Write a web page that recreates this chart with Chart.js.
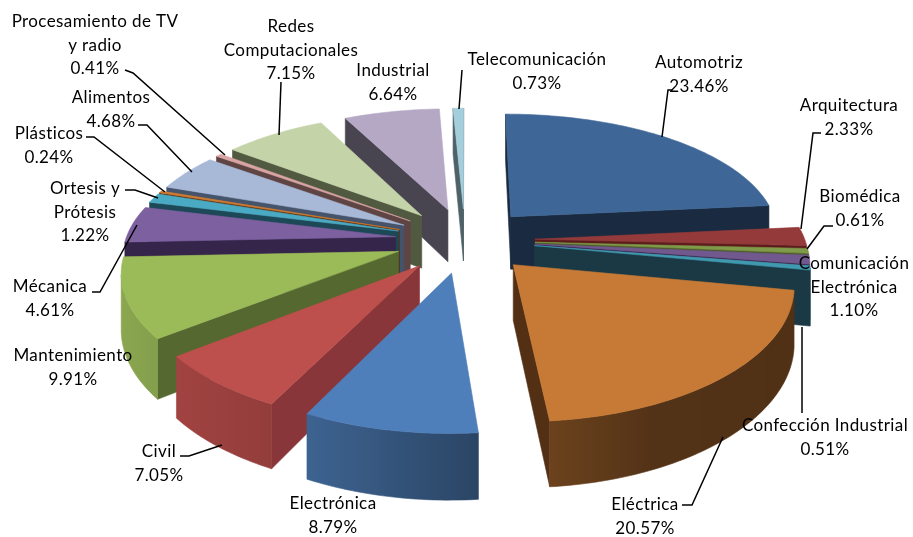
<!DOCTYPE html>
<html>
<head>
<meta charset="utf-8">
<title>Pastel</title>
<script src="https://cdn.jsdelivr.net/npm/chart.js@4"></script>
<style>
body { margin:0; background:#fff; }
#pie { display:block; }
</style>
</head>
<body>
<canvas id="pie" width="913" height="537"></canvas>
<script>
// values
const categories = ['Automotriz','Arquitectura','Biomédica','Comunicación Electrónica','Confección Industrial','Eléctrica','Electrónica','Civil','Mantenimiento','Mécanica','Ortesis y Prótesis','Plásticos','Alimentos','Procesamiento de TV y radio','Redes Computacionales','Industrial','Telecomunicación'];
const percents = [23.46,2.33,0.61,1.10,0.51,20.57,8.79,7.05,9.91,4.61,1.22,0.24,4.68,0.41,7.15,6.64,0.73];
const topColors = ['#3e6797','#953a3a','#7f9a48','#71588f','#3f9ab0','#c77a36','#4f7fba','#bd4f4c','#9bbb59','#7d60a0','#4aaac4','#d07b30','#a8b9d8','#d9a5a4','#c5d4a8','#b5a8c5','#a5cedc'];
const wallColors = ['#1a2a40','#5c1c1c','#4a5a28','#3a2a50','#1a3945','#532f14','#2a4566','#89363a','#556830','#35254a','#1c4858','#5a3010','#45546a','#5f4444','#515a40','#484450','#4f6268'];

// label text per slice, one entry per line, with its centre and row heights
const labelLines = [
  ['Automotriz','23.46%'],['Arquitectura','2.33%'],['Biomédica','0.61%'],['Comunicación','Electrónica','1.10%'],
  ['Confección Industrial','0.51%'],['Eléctrica','20.57%'],['Electrónica','8.79%'],['Civil','7.05%'],
  ['Mantenimiento','9.91%'],['Mécanica','4.61%'],['Ortesis y','Prótesis','1.22%'],['Plásticos','0.24%'],
  ['Alimentos','4.68%'],['Procesamiento de TV','y radio','0.41%'],['Redes','Computacionales','7.15%'],
  ['Industrial','6.64%'],['Telecomunicación','0.73%']
];
const labelX = [699,849,860,854,825,645,333,159,73,50,85,49,111,95,291,393,537];
const labelY = [63,106,197,264,426,505,504,452,356,287,189,134,98,22,27,71,60];
const lineStep = 23.5;

const leaders = [
  [[672,90],[668,90],[662,137]],
  [[821,133],[813,133],[801,229]],
  [[833,226],[824,226],[807,249]],
  [[802,327],[802,413]],
  [[682,505],[692,505],[723,437]],
  [[180,456],[189,456],[222,445]],
  [[92,292],[100,292],[137,225]],
  [[125,190],[135,190],[158,198]],
  [[86,137],[94,137],[165,192]],
  [[138,125],[147,125],[192,172]],
  [[125,70],[133,73],[225,155]],
  [[281,82],[279,135]],
  [[462,70],[459,109]]
];

const tilt = 0.462, persp = 0.000563, perspX = 0.0005, depth = 54;

function shade(hex, f) {
  const n = parseInt(hex.slice(1), 16);
  return 'rgb(' + [(n>>16)&255, (n>>8)&255, n&255].map(v => Math.round(v*f)).join(',') + ')';
}

// how bright the rim is, depending on which way it faces
function rimLight(c) {
  const stops = [[-1,0.9],[-0.42,0.77],[0.09,0.54],[0.4,0.42],[1,0.4]];
  for (let i = 1; i < stops.length; i++) {
    if (c <= stops[i][0]) {
      const t = (c-stops[i-1][0])/(stops[i][0]-stops[i-1][0]);
      return stops[i-1][1] + t*(stops[i][1]-stops[i-1][1]);
    }
  }
  return 0.4;
}

function fillPoly(ctx, pts, color) {
  ctx.beginPath();
  pts.forEach((p,i) => i ? ctx.lineTo(p[0],p[1]) : ctx.moveTo(p[0],p[1]));
  ctx.closePath();
  ctx.fillStyle = color;
  ctx.strokeStyle = color;
  ctx.lineWidth = 0.6;
  ctx.fill();
  ctx.stroke();
}

function polyArea(q) {
  let a = 0;
  q.forEach((p,i) => { const n = q[(i+1)%q.length]; a += p[0]*n[1]-n[0]*p[1]; });
  return a;
}

// draws the arcs of the pie as tilted, extruded wedges
const wedges3d = {
  id:'wedges3d',
  beforeDatasetsDraw(chart) {
    const ctx = chart.ctx;
    const arcs = chart.getDatasetMeta(0).data.map((arc,i) => ({arc,i}));
    const mid = a => (a.arc.startAngle+a.arc.endAngle)/2;
    arcs.sort((a,b) => Math.sin(mid(a))-Math.sin(mid(b)));
    arcs.forEach(({arc,i}) => {
      const m = (arc.startAngle+arc.endAngle)/2;
      const off = arc.options.offset;
      const ox = off*Math.cos(m), oy = off*Math.sin(m);
      const project = (wx,wy,z) => {
        const s = 1/(1-persp*wy);
        const sx = 1/(1-perspX*wy);
        return [arc.x+wx*sx, arc.y+tilt*wy*s+z*s];
      };
      const steps = Math.max(2, Math.ceil((arc.endAngle-arc.startAngle)/0.02));
      const angles = [];
      for (let k = 0; k <= steps; k++) angles.push(arc.startAngle+(arc.endAngle-arc.startAngle)*k/steps);
      const rim = a => [ox+arc.outerRadius*Math.cos(a), oy+arc.outerRadius*Math.sin(a)];
      const at = (w,z) => project(w[0],w[1],z);
      const apex = [ox,oy];
      const quad = (u,v) => [at(u,0),at(v,0),at(v,depth),at(u,depth)];
      const wall = (u,v,color) => {
        const q = quad(u,v);
        if (polyArea(q) < 0) fillPoly(ctx,q,color);
      };
      wall(apex,rim(arc.startAngle),wallColors[i]);
      wall(rim(arc.endAngle),apex,wallColors[i]);

      // visible part of the rim as one shape, so the shading has no seams
      const seen = [];
      for (let k = 0; k <= steps; k++) {
        const prevOk = k > 0 && polyArea(quad(rim(angles[k-1]),rim(angles[k]))) < 0;
        const nextOk = k < steps && polyArea(quad(rim(angles[k]),rim(angles[k+1]))) < 0;
        if (prevOk || nextOk) seen.push(angles[k]);
      }
      if (seen.length > 1) {
        const upper = seen.map(a => at(rim(a),0));
        const lower = seen.map(a => at(rim(a),depth)).reverse();
        const x0 = upper[0][0], x1 = upper[upper.length-1][0];
        const grad = ctx.createLinearGradient(x0,0,x1,0);
        seen.forEach((a,k) => {
          const t = Math.min(1,Math.max(0,(upper[k][0]-x0)/((x1-x0)||1)));
          grad.addColorStop(t,shade(topColors[i],rimLight(Math.cos(a))));
        });
        fillPoly(ctx,upper.concat(lower),grad);
      }
      const top = [at(apex,0)].concat(angles.map(a => at(rim(a),0)));
      fillPoly(ctx,top,topColors[i]);
    });
    return false;
  },
  afterDraw(chart) {
    const ctx = chart.ctx;
    ctx.save();
    ctx.strokeStyle = '#000';
    ctx.lineWidth = 1.5;
    leaders.forEach(l => {
      ctx.beginPath();
      l.forEach((p,i) => i ? ctx.lineTo(p[0],p[1]) : ctx.moveTo(p[0],p[1]));
      ctx.stroke();
    });
    ctx.fillStyle = '#000';
    ctx.font = '17px Lato';
    ctx.letterSpacing = '0.4px';
    ctx.textAlign = 'center';
    ctx.textBaseline = 'middle';
    labelLines.forEach((rows,i) => {
      rows.forEach((t,r) => ctx.fillText(t,labelX[i],labelY[i]+r*lineStep));
    });
    ctx.restore();
  }
};

new Chart(document.getElementById('pie'), {
  type:'pie',
  data:{ labels:categories, datasets:[{ data:percents, backgroundColor:topColors, offset:70, borderWidth:0 }]},
  options:{
    responsive:false,
    animation:false,
    radius:270,
    layout:{ padding:{ left:17, right:0, top:0, bottom:57 } },
    plugins:{ legend:{display:false}, tooltip:{enabled:false} }
  },
  plugins:[wedges3d]
});
</script>
</body>
</html>
